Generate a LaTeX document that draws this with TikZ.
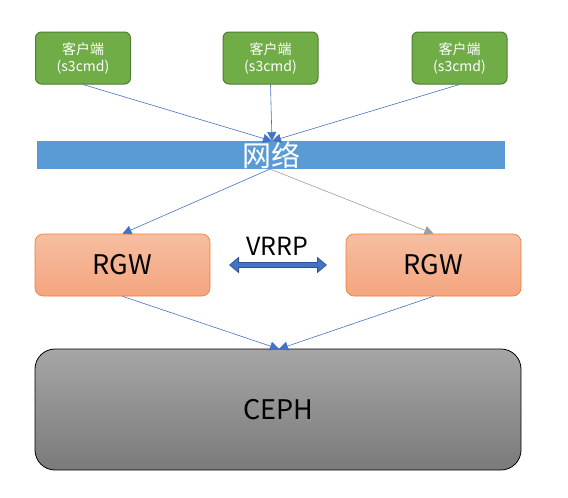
\documentclass[tikz,border=0pt]{standalone}
\usepackage{fontspec}
\setmainfont{Noto Sans CJK SC}
\usetikzlibrary{arrows.meta}

\definecolor{clientgreen}{HTML}{70AD47}
\definecolor{clientedge}{HTML}{507E32}
\definecolor{netblue}{HTML}{5B9BD5}
\definecolor{linkblue}{HTML}{4472C4}
\definecolor{rgwedge}{HTML}{ED7D31}
\definecolor{vrrpedge}{HTML}{2F528F}

\begin{document}
\begin{tikzpicture}[%
      x=1pt, y=-1pt,
      client/.style={draw=clientedge, line width=1pt, fill=clientgreen, rounded corners=6pt,
        minimum width=95pt, minimum height=52pt, text=white, font=\fontsize{14}{17}\selectfont,
        align=center, inner sep=0pt},
      rgw/.style={draw=rgwedge, line width=0.6pt, top color=rgwtop, bottom color=rgwbottom,
        rounded corners=8pt, minimum width=175pt, minimum height=62pt, inner sep=0pt,
        font=\fontsize{27}{30}\selectfont},
      link/.style={color=linkblue, line width=0.6pt, -{Triangle[length=9pt,width=9pt]}},
      ]
      \definecolor{rgwtop}{HTML}{F6BEA1}
      \definecolor{rgwbottom}{HTML}{F4A57F}
      \useasboundingbox (0,0) rectangle (568,498);

      \node[client] (c1) at (83,58) {客户端\\(s3cmd)};
      \node[client] (c2) at (270.5,58) {客户端\\(s3cmd)};
      \node[client] (c3) at (459.5,58) {客户端\\(s3cmd)};

      \node[fill=netblue, minimum width=468pt, minimum height=28pt, inner sep=0pt] (net) at (271,155) {};
      \node[text=white, font=\fontsize{29}{31}\selectfont] (netlabel) at (271,155) {网络};
      \coordinate (netin) at (272,141);
      \coordinate (netout) at (270,169);

      \node[rgw] (rgw1) at (122.5,265) {RGW};
      \node[rgw] (rgw2) at (433.5,265) {RGW};

      \node[draw=black, line width=0.8pt, rounded corners=20pt, top color=black!35, bottom color=black!52,
        minimum width=486pt, minimum height=121pt, inner sep=0pt,
        font=\fontsize{27}{30}\selectfont] (ceph) at (278,409.5) {CEPH};
      \coordinate (cephin) at (279,349);

      \draw[link] (c1.south) -- (netin);
      \draw[link] (c2.south) -- (netin);
      \draw[link] (c3.south) -- (netin);

      \draw[link] (netout) -- (rgw1.north);
      \draw[link, color=black!38] (netout) -- (rgw2.north);

      \draw[link] (rgw1.south) -- (cephin);
      \draw[link] (rgw2.south) -- (cephin);

      % VRRP
      \coordinate (vl) at (229,265);
      \coordinate (vr) at (327,265);
      \draw[color=vrrpedge, line width=6.6pt, {Triangle[length=10pt,width=16pt]}-{Triangle[length=10pt,width=16pt]}] (vl) -- (vr);
      \draw[color=linkblue, line width=4.6pt, shorten <=1pt, shorten >=1pt,
        {Triangle[length=8pt,width=12pt]}-{Triangle[length=8pt,width=12pt]}] (vl) -- (vr);
      \node[font=\fontsize{25}{27}\selectfont] (vrrp) at (277,246) {VRRP};
      \end{tikzpicture}
\end{document}
